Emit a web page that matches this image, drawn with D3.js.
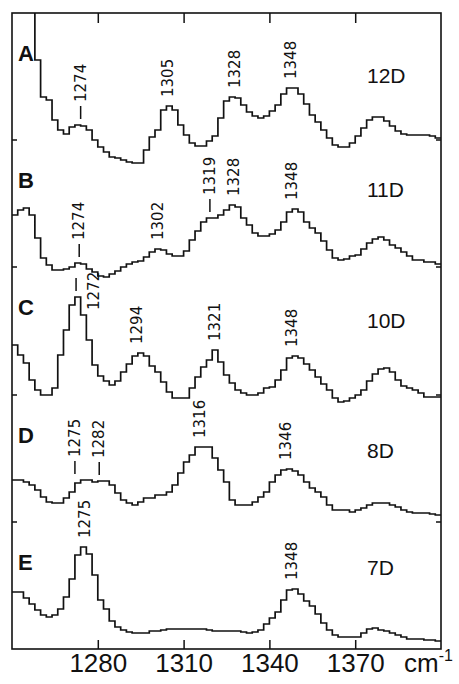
<!DOCTYPE html>
<html><head><meta charset="utf-8">
<script src="https://cdn.jsdelivr.net/npm/d3@7"></script>
<style>body{margin:0;background:#fff}svg{display:block}</style>
</head><body><div id="chart"></div>
<script>
// ---------- data ----------
const wnStart = 1250, wnEnd = 1400, wnStep = 2;   // step-histogram bins (cm-1)
// intensities (arbitrary units) per 2 cm-1 bin, 1250..1400
const specA = [175,175,175,175,110,73,70,50,40,36, 43,45,44,40,30,23,18,13,12,10,
  8,7,7,20,33,40,60,64,60,45, 35,27,24,24,29,34,52,69,73,72,
  65,58,54,52,54,59,65,76,82,82, 76,66,55,48,40,32,25,23,23,27,
  34,42,50,53,53,49,44,39,36,35, 35,35,35,34,32];
const specB = [75,80,82,75,52,32,25,20,20,21, 23,27,26,21,18,14,13,16,19,23,
  26,28,29,33,38,41,40,36,34,34, 39,50,59,68,72,72,75,80,85,83,
  72,65,57,54,54,56,60,68,78,81, 78,68,62,57,49,40,32,30,31,34,
  35,41,47,51,53,50,45,42,38,34, 30,30,28,28,26];
const specC = [75,65,57,40,30,25,25,32,65,90, 115,123,105,80,55,44,39,35,39,48,
  56,64,67,64,54,48,38,28,22,22, 22,32,43,53,60,70,58,45,37,30,
  27,25,25,27,32,33,40,50,62,64, 62,56,50,43,36,30,22,18,19,22,
  25,30,39,46,51,52,48,40,34,32, 30,27,23,23,23];
const specD = [50,50,48,45,40,33,28,27,27,32, 38,47,50,50,48,49,49,45,37,30,
  27,25,28,32,32,35,35,38,45,57, 68,75,83,83,83,72,60,48,30,25,
  25,25,28,33,38,48,55,60,61,59, 55,48,42,38,33,25,20,20,20,18,
  20,22,25,27,27,27,25,23,20,18, 17,17,17,16,15];
const specE = [57,57,51,45,39,34,32,34,40,52, 70,94,102,95,74,49,40,28,22,19,
  17,16,16,16,18,18,19,20,20,20, 20,20,20,20,19,18,18,18,18,18,
  17,16,17,19,25,31,37,49,59,60, 55,48,43,35,26,19,14,12,12,12,
  12,16,20,21,19,18,16,14,12,10, 10,10,9,9,8];
const spectra = [specA, specB, specC, specD, specE];
const panelNames = ["A","B","C","D","E"];
const sampleNames = ["12D","11D","10D","8D","7D"];
const offsets = [479, 359, 229, 119, 0];          // vertical stacking offsets (same units)
const panelBounds = [127, 254, 382, 509];          // panel separators (same units)
const xTickValues = [1280, 1310, 1340, 1370];
// peak annotations: spectrum index, wavenumber position, text, leading dash, text shifted to wavenumber
const peakSpec = [0,0,0,0, 1,1,1,1,1, 2,2,2,2, 3,3,3,3, 4,4];
const peakAt   = [1274,1304.5,1328,1347.6, 1273.5,1301,1319.2,1327.6,1348, 1272.4,1293.7,1321,1348, 1272,1280.5,1315.7,1345.8, 1275.5,1348];
const peakText = ["1274","1305","1328","1348", "1274","1302","1319","1328","1348", "1272","1294","1321","1348", "1275","1282","1316","1346", "1275","1348"];
const peakDash = [1,0,0,0, 1,0,1,0,0, 1,0,0,0, 1,1,0,0, 0,0];
const peakTextAt = [null,null,null,null, null,null,null,null,null, 1278.7,null,null,null, null,null,null,null, null,null];

// ---------- chart ----------
const W = 459, H = 684;
const frame = {l: 12, r: 441, t: 13, b: 649};
const svg = d3.select("#chart").append("svg").attr("width", W).attr("height", H);
const x = d3.scaleLinear().domain([wnStart, wnEnd]).range([frame.l, frame.r]);
const y = d3.scaleLinear().domain([0, 636]).range([frame.b, frame.t]);
const ink = "#111";

svg.append("defs").append("clipPath").attr("id", "clip")
  .append("rect").attr("x", frame.l).attr("y", frame.t)
  .attr("width", frame.r - frame.l).attr("height", frame.b - frame.t);

// spectra
spectra.forEach((vals, k) => {
  const pts = vals.map((v, i) => [wnStart + i * wnStep, v]);
  pts.push([wnEnd, vals[vals.length - 1]]);
  const line = d3.line().x(d => x(d[0])).y(d => y(d[1] + offsets[k])).curve(d3.curveStepAfter);
  svg.append("path").attr("d", line(pts)).attr("clip-path", "url(#clip)")
    .attr("fill", "none").attr("stroke", ink).attr("stroke-width", 1.7)
    .attr("stroke-linejoin", "miter");
});

// frame
svg.append("rect").attr("x", frame.l).attr("y", frame.t)
  .attr("width", frame.r - frame.l).attr("height", frame.b - frame.t)
  .attr("fill", "none").attr("stroke", ink).attr("stroke-width", 1.6);

// bottom axis
const axB = svg.append("g").attr("transform", `translate(0,${frame.b})`)
  .call(d3.axisBottom(x).tickValues(xTickValues).tickSize(-9).tickPadding(5).tickFormat(d3.format("d")));
axB.select(".domain").remove();
axB.selectAll("line").attr("stroke", ink).attr("stroke-width", 1.5);
axB.selectAll("text").attr("fill", ink).style("font-family", "'Liberation Sans', Arial, sans-serif").style("font-size", "26px");
// top axis ticks
const axT = svg.append("g").attr("transform", `translate(0,${frame.t})`)
  .call(d3.axisTop(x).tickValues(xTickValues).tickSize(-10).tickFormat(""));
axT.select(".domain").remove();
axT.selectAll("line").attr("stroke", ink).attr("stroke-width", 1.5);

// unit
const unit = svg.append("text").attr("x", 404).attr("y", 672).attr("fill", ink)
  .style("font-family", "'Liberation Sans', Arial, sans-serif").style("font-size", "26px");
unit.append("tspan").text("cm");
unit.append("tspan").attr("dy", -11).style("font-size", "16px").text("-1");

// panel separator ticks
panelBounds.forEach(v => {
  svg.append("line").attr("x1", frame.l).attr("x2", frame.l + 5).attr("y1", y(v)).attr("y2", y(v))
    .attr("stroke", ink).attr("stroke-width", 1.5);
  svg.append("line").attr("x1", frame.r - 5).attr("x2", frame.r).attr("y1", y(v)).attr("y2", y(v))
    .attr("stroke", ink).attr("stroke-width", 1.5);
});

// panel letters and sample names
const bandH = (frame.b - frame.t) / 5;
const nameDy = [70, 57, 61, 63, 53];
panelNames.forEach((n, k) => {
  const top = frame.t + k * bandH;
  svg.append("text").attr("x", 18).attr("y", top + 48).text(n).attr("fill", ink)
    .style("font-family", "'Liberation Sans', Arial, sans-serif").style("font-size", "22px").style("font-weight", "bold");
  svg.append("text").attr("x", 367).attr("y", top + nameDy[k]).text(sampleNames[k]).attr("fill", ink)
    .style("font-family", "'Liberation Sans', Arial, sans-serif").style("font-size", "21px");
});

// peak labels
peakAt.forEach((at, j) => {
  const k = peakSpec[j], vals = spectra[k];
  let pk = 0;
  vals.forEach((v, i) => { const mid = wnStart + i * wnStep + wnStep / 2; if (Math.abs(mid - at) <= 3) pk = Math.max(pk, v); });
  const py = y(pk + offsets[k]);
  const px = x(at);
  let tx = px, tb;
  if (peakDash[j]) {
    svg.append("line").attr("x1", px).attr("x2", px).attr("y1", py - 6).attr("y2", py - 19)
      .attr("stroke", ink).attr("stroke-width", 1.5);
    tb = py - 23;
  } else tb = py - 9;
  if (peakTextAt[j] != null) { tx = x(peakTextAt[j]); tb = py + 13; }
  svg.append("text").attr("transform", `translate(${tx + 5},${tb}) rotate(-90)`)
    .text(peakText[j]).attr("fill", ink)
    .style("font-family", "'DejaVu Sans', sans-serif").style("font-size", "15px");
});
</script></body></html>
